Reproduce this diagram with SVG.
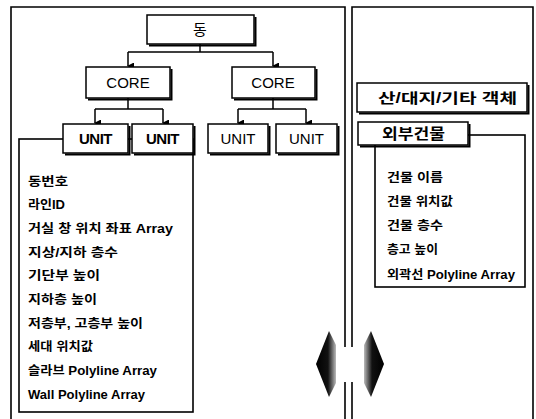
<svg xmlns="http://www.w3.org/2000/svg" width="536" height="419" viewBox="0 0 536 419">
<defs>
<style>
.panel{fill:none;stroke:#000;stroke-width:1.6}
.box{fill:#fff;stroke:#000;stroke-width:1.5}
.shadow{fill:none;stroke:#000;stroke-width:2}
.list{fill:none;stroke:#000;stroke-width:1.6}
.conn{fill:none;stroke:#000;stroke-width:1.5}
.t{font-family:"Liberation Sans","Noto Sans CJK KR",sans-serif;fill:#000}
.head{font-size:15px;text-anchor:middle}
.item{font-size:12px;font-weight:bold}
</style>
<marker id="ah" markerWidth="7" markerHeight="7" refX="3.5" refY="6" orient="auto-start-reverse" markerUnits="userSpaceOnUse" viewBox="0 0 7 7">
<path d="M0,0 L7,0 L3.5,7 Z" fill="#000"/>
</marker>
<linearGradient id="gl" x1="0" y1="0" x2="1" y2="0">
<stop offset="0" stop-color="#000"/>
<stop offset="0.6" stop-color="#111"/>
<stop offset="1" stop-color="#bbb"/>
</linearGradient>
<linearGradient id="gr" x1="1" y1="0" x2="0" y2="0">
<stop offset="0" stop-color="#000"/>
<stop offset="0.6" stop-color="#111"/>
<stop offset="1" stop-color="#bbb"/>
</linearGradient>
</defs>
<rect width="536" height="419" fill="#fff"/>

<!-- panels -->
<g id="panels">
<path class="panel" d="M11,425 V7 H345 V347 M345,382 V425"/>
<path class="panel" d="M352,425 V382 M352,347 V7 H533 V425"/>
</g>

<!-- attribute list frames -->
<g id="lists">
<rect class="list" x="19" y="139" width="174" height="273"/>
<rect class="list" x="375" y="135" width="150" height="152"/>
</g>

<!-- connectors -->
<g id="connectors">
<path class="conn" d="M200,44 V52 M128,52 H273"/>
<path class="conn" d="M128,52 V66" marker-end="url(#ah)"/>
<path class="conn" d="M273,52 V66" marker-end="url(#ah)"/>
<path class="conn" d="M128,98 V109 M95,109 H163"/>
<path class="conn" d="M95,109 V123" marker-end="url(#ah)"/>
<path class="conn" d="M163,109 V123" marker-end="url(#ah)"/>
<path class="conn" d="M273,98 V109 M238,109 H306"/>
<path class="conn" d="M238,109 V123" marker-end="url(#ah)"/>
<path class="conn" d="M306,109 V123" marker-end="url(#ah)"/>
</g>

<g id="dong">
<rect class="box" x="147" y="15" width="107" height="29"/>
<path class="shadow" d="M149,45.5 H255.5 V17"/>
<text class="t head" x="200" y="35" font-size="16">동</text>
</g>

<g id="core1">
<rect class="box" x="86" y="67" width="84" height="31"/>
<path class="shadow" d="M88,99.5 H171.5 V69"/>
<text class="t head" x="128" y="88">CORE</text>
</g>
<g id="core2">
<rect class="box" x="232" y="67" width="83" height="31"/>
<path class="shadow" d="M234,99.5 H316.5 V69"/>
<text class="t head" x="273" y="88">CORE</text>
</g>

<g id="unit1">
<rect class="box" x="63" y="124" width="65" height="29"/>
<path class="shadow" d="M65,154.5 H129.5 V126"/>
<text class="t head" x="95.5" y="144" font-weight="bold" letter-spacing="-0.5">UNIT</text>
</g>
<g id="unit2">
<rect class="box" x="132" y="124" width="61" height="29"/>
<path class="shadow" d="M134,154.5 H194.5 V126"/>
<text class="t head" x="162.5" y="144" font-weight="bold" letter-spacing="-0.5">UNIT</text>
</g>
<g id="unit3">
<rect class="box" x="208" y="124" width="60" height="29"/>
<path class="shadow" d="M210,154.5 H269.5 V126"/>
<text class="t head" x="238" y="144">UNIT</text>
</g>
<g id="unit4">
<rect class="box" x="276" y="124" width="61" height="29"/>
<path class="shadow" d="M278,154.5 H338.5 V126"/>
<text class="t head" x="306.5" y="144">UNIT</text>
</g>

<g id="unit-attrs">
<text class="t item" x="28" y="186" textLength="40" lengthAdjust="spacingAndGlyphs">동번호</text>
<text class="t item" x="28" y="209" textLength="37" lengthAdjust="spacingAndGlyphs">라인ID</text>
<text class="t item" x="28" y="233" textLength="145" lengthAdjust="spacingAndGlyphs">거실 창 위치 좌표 Array</text>
<text class="t item" x="28" y="257" textLength="90" lengthAdjust="spacingAndGlyphs">지상/지하 층수</text>
<text class="t item" x="28" y="280" textLength="72" lengthAdjust="spacingAndGlyphs">기단부 높이</text>
<text class="t item" x="28" y="304" textLength="69" lengthAdjust="spacingAndGlyphs">지하층 높이</text>
<text class="t item" x="28" y="328" textLength="115" lengthAdjust="spacingAndGlyphs">저층부, 고층부 높이</text>
<text class="t item" x="28" y="351" textLength="65" lengthAdjust="spacingAndGlyphs">세대 위치값</text>
<text class="t item" x="28" y="375" textLength="129" lengthAdjust="spacingAndGlyphs">슬라브 Polyline Array</text>
<text class="t item" x="28" y="399" textLength="117" lengthAdjust="spacingAndGlyphs">Wall Polyline Array</text>
</g>

<g id="terrain">
<rect class="box" x="357" y="83" width="170" height="29"/>
<path class="shadow" d="M359,113.5 H528.5 V85"/>
<text class="t" x="378" y="103" font-size="14" font-weight="bold" textLength="139" lengthAdjust="spacingAndGlyphs">산/대지/기타 객체</text>
</g>

<g id="ext-building">
<rect class="box" x="358" y="122" width="110" height="23"/>
<path class="shadow" d="M360,146.5 H469.5 V124"/>
<text class="t" x="382" y="139" font-size="15" font-weight="bold" textLength="63" lengthAdjust="spacingAndGlyphs">외부건물</text>
</g>

<g id="building-attrs">
<text class="t item" x="387" y="182" textLength="56" lengthAdjust="spacingAndGlyphs">건물 이름</text>
<text class="t item" x="387" y="206" textLength="66" lengthAdjust="spacingAndGlyphs">건물 위치값</text>
<text class="t item" x="387" y="230" textLength="56" lengthAdjust="spacingAndGlyphs">건물 층수</text>
<text class="t item" x="387" y="254" textLength="51" lengthAdjust="spacingAndGlyphs">층고 높이</text>
<text class="t item" x="387" y="279" textLength="128" lengthAdjust="spacingAndGlyphs">외곽선 Polyline Array</text>
</g>

<g id="exchange-arrows">
<polygon points="316,364 329,331 336,345 336,383 329,397" fill="url(#gl)"/>
<polygon points="384,364 371,331 364,345 364,383 371,397" fill="url(#gr)"/>
</g>
</svg>
